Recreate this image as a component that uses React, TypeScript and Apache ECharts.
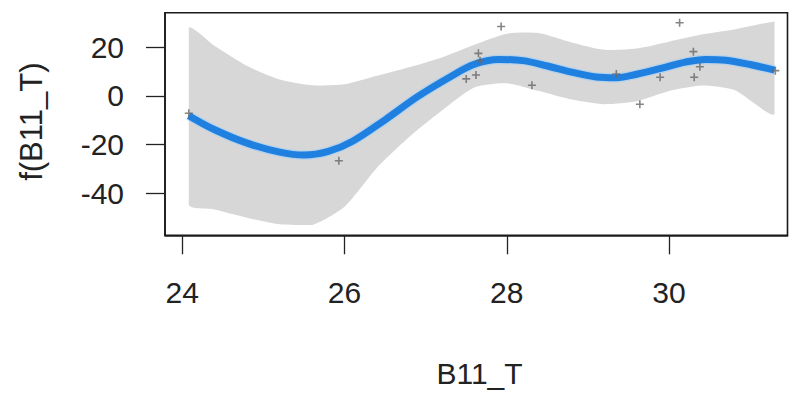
import React, { useEffect, useRef } from "react";
import * as echarts from "echarts";

// Confidence band of f(B11_T), read at common x positions
const bandX = [24.08, 24.4, 24.8, 25.2, 25.6, 26.0, 26.4, 26.8, 27.2, 27.6, 28.0, 28.4, 28.8, 29.2, 29.6, 30.0, 30.4, 30.8, 31.3];
const upperValues = [27.8, 20.5, 12.3, 6.8, 4.4, 4.8, 8.3, 11.8, 15.8, 21.0, 25.6, 25.8, 22.0, 19.0, 19.5, 22.3, 25.2, 27.3, 30.6];
const lowerValues = [-44.6, -46.6, -50.0, -52.7, -53.0, -45.5, -29.5, -16.8, -6.0, 3.5, 5.2, 2.0, -1.5, -3.4, -2.2, 2.0, 4.3, 2.5, -7.4];

// Fitted smooth f(B11_T)
const fitX = [24.08, 24.4, 24.8, 25.2, 25.5, 25.8, 26.1, 26.5, 26.9, 27.3, 27.6, 27.9, 28.2, 28.5, 28.8, 29.1, 29.35, 29.6, 29.9, 30.2, 30.45, 30.7, 31.0, 31.3];
const fitValues = [-8.1, -13.9, -19.4, -23.1, -24.3, -22.8, -18.6, -9.8, -0.3, 7.8, 13.0, 15.0, 14.5, 12.3, 9.8, 7.8, 7.5, 8.9, 11.3, 13.9, 15.0, 14.7, 12.9, 10.6];

// Partial residual points
const pointX = [24.08, 25.93, 27.5, 27.62, 27.65, 27.67, 27.93, 28.31, 29.35, 29.64, 29.89, 30.13, 30.3, 30.38, 30.31, 31.31];
const pointY = [-7.1, -26.6, 7.0, 8.6, 17.5, 14.5, 28.5, 4.4, 9.0, -3.4, 7.7, 30.1, 18.2, 12.0, 7.7, 10.4];

const xTicks = [24, 26, 28, 30];
const yTicks = [-40, -20, 0, 20];

const xTitle = "B11_T";
const yTitle = "f(B11_T)";

const FONT = "'Liberation Sans', Arial, Helvetica, sans-serif";
const TEXT = "#222222";
const PLUS = "path://M4,0H6V4H10V6H6V10H4V6H0V4H4Z";

export default function App() {
  const ref = useRef<HTMLDivElement>(null);
  useEffect(() => {
    if (!ref.current) return;
    const chart = echarts.init(ref.current, undefined, { renderer: "svg" });
    chart.setOption({
      animation: false,
      backgroundColor: "#ffffff",
      grid: {
        left: 165,
        right: 1.5,
        top: 12.7,
        bottom: 160.7,
        show: true,
        borderColor: "#1a1a1a",
        borderWidth: 1.6,
        backgroundColor: "transparent",
      },
      xAxis: {
        type: "value",
        min: 23.787,
        max: 31.46,
        z: 20,
        splitLine: { show: false },
        axisLine: { show: true, onZero: false, lineStyle: { color: "#1a1a1a", width: 1.6 } },
        axisTick: {
          show: true,
          customValues: xTicks,
          length: 19,
          inside: false,
          lineStyle: { color: "#222", width: 1.3 },
        },
        axisLabel: {
          customValues: xTicks,
          margin: 57,
          verticalAlign: "middle",
          fontSize: 30,
          fontFamily: FONT,
          color: TEXT,
        },
      },
      yAxis: {
        type: "value",
        min: -57.25,
        max: 34.2,
        z: 20,
        splitLine: { show: false },
        axisLine: { show: true, onZero: false, lineStyle: { color: "#1a1a1a", width: 1.6 } },
        axisTick: {
          show: true,
          customValues: yTicks,
          length: 19,
          inside: false,
          lineStyle: { color: "#222", width: 1.3 },
        },
        axisLabel: {
          customValues: yTicks,
          margin: 41,
          verticalAlign: "middle",
          padding: [6, 0, 0, 0],
          fontSize: 30,
          fontFamily: FONT,
          color: TEXT,
        },
      },
      series: [
        {
          type: "custom",
          data: bandX.map((x, i) => [x, upperValues[i], lowerValues[i]]),
          encode: { x: 0, y: [1, 2] },
          silent: true,
          z: 1,
          renderItem: (params: any, api: any) => {
            if (params.dataIndex !== 0) return null;
            const up = bandX.map((x, i) => api.coord([x, upperValues[i]]));
            const lo = bandX.map((x, i) => api.coord([x, lowerValues[i]])).reverse();
            const pts = up.concat(lo);
            const xs = pts.map((p: number[]) => p[0]);
            const ys = pts.map((p: number[]) => p[1]);
            return {
              type: "polygon",
              shape: {
                points: pts,
                smooth: 0.22,
                smoothConstraint: [
                  [Math.min(...xs), Math.min(...ys)],
                  [Math.max(...xs), Math.max(...ys)],
                ],
              },
              style: { fill: "#d7d7d7", stroke: "none" },
            };
          },
        },
        {
          type: "line",
          data: fitX.map((x, i) => [x, fitValues[i]]),
          smooth: 0.35,
          symbol: "none",
          lineStyle: { color: "rgba(150,205,255,0.5)", width: 9.5 },
          silent: true,
          z: 2,
        },
        {
          type: "line",
          data: fitX.map((x, i) => [x, fitValues[i]]),
          smooth: 0.35,
          symbol: "none",
          lineStyle: { color: "#1f80e0", width: 7 },
          silent: true,
          z: 3,
        },
        {
          type: "scatter",
          data: pointX.map((x, i) => [x, pointY[i]]),
          symbol: PLUS,
          symbolSize: 8,
          itemStyle: { color: "#666666" },
          silent: true,
          z: 4,
        },
      ],
      graphic: [
        {
          type: "text",
          x: 479.5,
          y: 373,
          style: {
            text: xTitle,
            fontSize: 30,
            fontFamily: FONT,
            fill: TEXT,
            align: "center",
            verticalAlign: "middle",
          },
        },
        {
          type: "text",
          x: 31.5,
          y: 121.7,
          rotation: Math.PI / 2,
          style: {
            text: yTitle,
            fontSize: 31,
            fontFamily: FONT,
            fill: TEXT,
            align: "center",
            verticalAlign: "middle",
          },
        },
      ],
    });
    return () => chart.dispose();
  }, []);
  return (
    <div
      ref={ref}
      style={{ position: "absolute", left: 0, top: 0, width: 789, height: 396 }}
    />
  );
}
